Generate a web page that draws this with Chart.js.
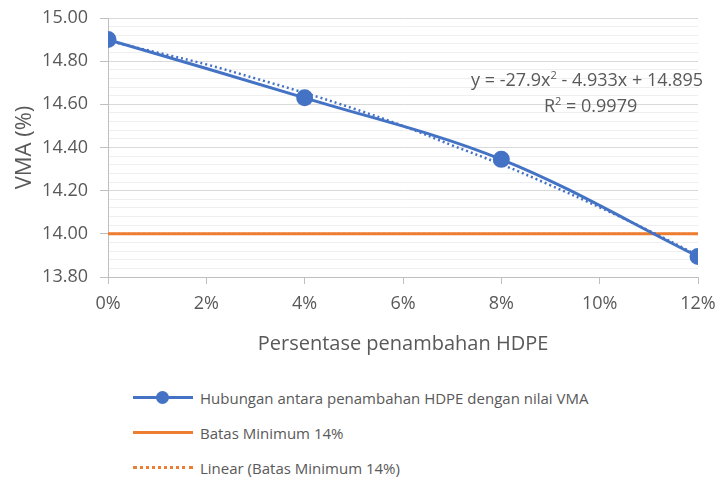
<!DOCTYPE html>
<html>
<head>
<meta charset="utf-8">
<script src="https://cdn.jsdelivr.net/npm/chart.js@4"></script>
<style>
  body { margin: 0; background: #fff; font-family: "Open Sans", sans-serif; color: #595959; }
  #wrap { position: relative; width: 719px; height: 477px; }
  #myChart { position: absolute; left: 0; top: 0; }
  .eq { position: absolute; font-size: 18px; color: #595959; white-space: nowrap; }
  .legend { position: absolute; left: 133px; top: 380px; font-size: 15px; color: #595959; }
  .legend-row { display: flex; align-items: center; height: 35px; }
  .sample { position: relative; width: 60px; height: 3px; margin-right: 7px; }
  .dot { position: absolute; left: 23px; top: -5px; width: 13px; height: 13px; border-radius: 50%; background: #4472c4; }
</style>
</head>
<body>
<div id="wrap">
  <canvas id="myChart" width="719" height="360"></canvas>
  <div class="eq" style="left:471px; top:67px;">y = -27.9x<sup style="font-size:11px">2</sup> - 4.933x + 14.895</div>
  <div class="eq" style="left:544px; top:93px;">R<sup style="font-size:11px">2</sup> = 0.9979</div>
  <div class="legend">
    <div class="legend-row"><div class="sample" style="background:#4472c4"><div class="dot"></div></div>Hubungan antara penambahan HDPE dengan nilai VMA</div>
    <div class="legend-row"><div class="sample" style="background:#ed7d31"></div>Batas Minimum 14%</div>
    <div class="legend-row"><div class="sample" style="height:0; border-top:3px dotted #ed7d31"></div>Linear (Batas Minimum 14%)</div>
  </div>
</div>
<script>
const hdpe = [0, 4, 8, 12];
const vma = [14.90, 14.63, 14.345, 13.895];
const batasX = [0, 12];
const batas = [14.0, 14.0];
// trendline
const trendX = [0, 1, 2, 3, 4, 5, 6, 7, 8, 9, 10, 11, 12];
const trendY = [14.895, 14.84, 14.785, 14.72, 14.653, 14.58, 14.50, 14.41, 14.322, 14.225, 14.123, 14.015, 13.90];

const GRAY = "#595959";
const toPts = (xs, ys) => xs.map((x, i) => ({ x: x, y: ys[i] }));
const isMajor = (v) => Math.abs(Math.round(v * 5) - v * 5) < 1e-6;

const $ctx = document.getElementById("myChart").getContext("2d");
new Chart($ctx, {
  type: "line",
  data: {
    datasets: [
      {
        label: "Hubungan antara penambahan HDPE dengan nilai VMA",
        data: toPts(hdpe, vma),
        borderColor: "#4472c4",
        backgroundColor: "#4472c4",
        borderWidth: 3,
        pointRadius: 7,
        pointHoverRadius: 7,
        tension: 0.35,
        order: 1,
      },
      {
        label: "Poly trend",
        data: toPts(trendX, trendY),
        borderColor: "#4472c4",
        borderWidth: 2.5,
        borderDash: [2, 3],
        pointRadius: 0,
        tension: 0.4,
        order: 2,
      },
      {
        label: "Batas Minimum 14%",
        data: toPts(batasX, batas),
        borderColor: "#ed7d31",
        borderWidth: 3,
        pointRadius: 0,
        order: 3,
      },
      {
        label: "Linear (Batas Minimum 14%)",
        data: toPts(batasX, batas),
        borderColor: "#ed7d31",
        borderWidth: 2,
        borderDash: [2, 3],
        pointRadius: 0,
        order: 4,
      },
    ],
  },
  options: {
    responsive: false,
    animation: false,
    layout: { padding: { left: 12, right: 21, top: 18, bottom: 0 } },
    plugins: { legend: { display: false }, tooltip: { enabled: false } },
    scales: {
      x: {
        type: "linear",
        min: 0,
        max: 12,
        afterFit: (s) => { s.height = 83; s.paddingRight = 0; s.paddingLeft = 0; },
        border: { color: "#bfbfbf" },
        grid: { drawOnChartArea: false, tickLength: 7, tickColor: "#bfbfbf" },
        ticks: {
          stepSize: 2,
          autoSkip: false,
          maxRotation: 0,
          color: GRAY,
          padding: 9,
          font: { family: "Open Sans", size: 18 },
          callback: (v) => v + "%",
        },
        title: {
          display: true,
          text: "Persentase penambahan HDPE",
          color: GRAY,
          font: { family: "Open Sans", size: 20 },
          padding: { top: 8 },
        },
      },
      y: {
        min: 13.8,
        max: 15.0,
        afterFit: (s) => { s.width = 96; s.paddingTop = 0; s.paddingBottom = 0; },
        afterBuildTicks: (s) => {
          const t = [];
          for (let i = 0; i <= 30; i++) t.push({ value: +(13.8 + i * 0.04).toFixed(2) });
          s.ticks = t;
        },
        border: { color: "#bfbfbf" },
        grid: {
          color: (c) => (c.tick && isMajor(c.tick.value) ? (c.index === 0 ? "#bfbfbf" : "#d9d9d9") : "#efefef"),
          tickColor: (c) => (c.tick && isMajor(c.tick.value) ? "#bfbfbf" : "rgba(0,0,0,0)"),
          tickLength: 8,
        },
        ticks: {
          autoSkip: false,
          color: GRAY,
          padding: 12,
          font: { family: "Open Sans", size: 18 },
          callback: (v) => (isMajor(v) ? v.toFixed(2) : ""),
        },
        title: {
          display: true,
          text: "VMA (%)",
          color: GRAY,
          font: { family: "Open Sans", size: 22 },
          padding: 0,
        },
      },
    },
  },
});
</script>
</body>
</html>
